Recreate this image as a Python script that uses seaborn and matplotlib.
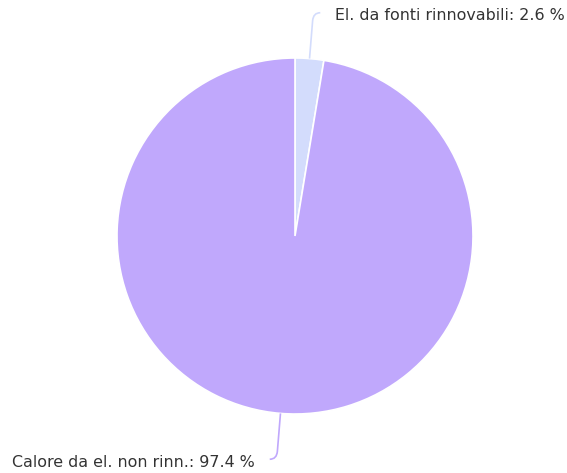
import numpy as np
import matplotlib
matplotlib.use('Agg')
import matplotlib.pyplot as plt
from matplotlib.path import Path
from matplotlib.patches import PathPatch
import seaborn as sns

labels = ['El. da fonti rinnovabili', 'Calore da el. non rinn.']
values = [2.6, 97.4]
colors = ['#d3dcfc', '#c0a8fc']

W, H = 567, 473
CX, CY, R = 295, 473 - 236, 178

sns.set_theme(style='white')
plt.rcParams['font.family'] = ['DejaVu Sans']

fig = plt.figure(figsize=(W / 100, H / 100), dpi=100)
ax = fig.add_axes([0, 0, 1, 1])

wedges, _ = ax.pie(values, colors=colors, startangle=90, counterclock=False,
                   center=(CX, CY), radius=R,
                   wedgeprops=dict(edgecolor='white', linewidth=1.2))

# pie() resets the limits, so set them afterwards (pixel coords)
ax.set_xlim(0, W)
ax.set_ylim(0, H)
ax.set_aspect('equal')
ax.axis('off')

# connector lines + labels, placed from each wedge's mid angle
for w, lab, val, col in zip(wedges, labels, values, colors):
    mid = np.deg2rad((w.theta1 + w.theta2) / 2)
    dx, dy = np.cos(mid), np.sin(mid)
    side = 1 if dx > 0 else -1
    x0, y0 = CX + R * dx, CY + R * dy
    x1, y1 = x0 + 38 * dx, y0 + 38 * dy
    xc, yc = x1 + 8 * dx, y1 + 8 * dy
    x2, y2 = xc + side * 7, yc
    path = Path([(x0, y0), (x1, y1), (xc, yc), (x2, y2)],
                [Path.MOVETO, Path.LINETO, Path.CURVE3, Path.CURVE3])
    ax.add_patch(PathPatch(path, fill=False, edgecolor=col, lw=1.2))
    ax.text(x2 + side * 15, y2 - 3, f'{lab}: {val} %',
            ha='left' if side > 0 else 'right', va='center',
            fontsize=11.4, color='#333333')

fig.savefig('out.png', dpi=100)
